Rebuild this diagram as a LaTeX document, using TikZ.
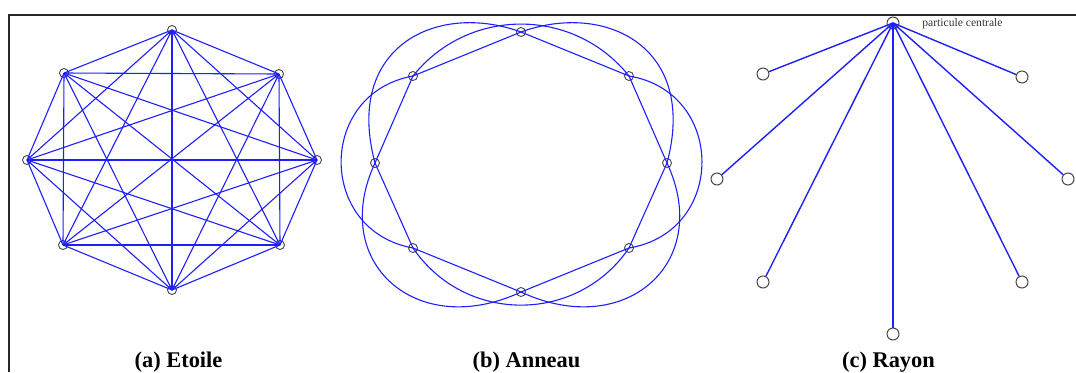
\documentclass[tikz,border=0pt]{standalone}
\usepackage{fontspec}
\setmainfont{Liberation Serif}
\definecolor{edgeblue}{RGB}{30,30,255}
\definecolor{nodegray}{RGB}{70,70,70}
\begin{document}
\begin{tikzpicture}[x=0.5pt,y=0.5pt,
  pt/.style={circle,draw=nodegray,line width=0.45pt,minimum size=4.5pt,inner sep=0pt},
  bigpt/.style={circle,draw=nodegray,line width=0.5pt,minimum size=6pt,inner sep=0pt},
  edge/.style={draw=edgeblue,line width=0.55pt},
  spoke/.style={draw=edgeblue,line width=0.7pt},
  caption/.style={anchor=base,font=\bfseries\fontsize{11.2}{13}\selectfont},
  frame/.style={draw=black!85,line width=1pt}]
\useasboundingbox (0,0) rectangle (1076,372);
% frame
\draw[frame] (9,0) -- (9,357) -- (1076,357);
% ---------- (a) Etoile ----------
\node[pt] (a1) at (172,342) {};
\node[pt] (a2) at (279,298) {};
\node[pt] (a3) at (317,212) {};
\node[pt] (a4) at (280,127) {};
\node[pt] (a5) at (172,82) {};
\node[pt] (a6) at (63,127) {};
\node[pt] (a7) at (27,212) {};
\node[pt] (a8) at (64,299) {};
\foreach \i in {1,...,7}{
  \pgfmathtruncatemacro\k{\i+1}
  \foreach \j in {\k,...,8}{
    \draw[edge] (a\i.center) -- (a\j.center);
  }
}
\node[caption] (capa) at (178.5,5) {(a) Etoile};
% ---------- (b) Anneau ----------
\node[pt] (b1) at (521,340) {};
\node[pt] (b2) at (629,296) {};
\node[pt] (b3) at (667,209) {};
\node[pt] (b4) at (629,124) {};
\node[pt] (b5) at (521,80) {};
\node[pt] (b6) at (413,124) {};
\node[pt] (b7) at (375,209) {};
\node[pt] (b8) at (413,296) {};
\draw[edge] (b1.center) -- (b2.center) -- (b3.center) -- (b4.center) -- (b5.center)
  -- (b6.center) -- (b7.center) -- (b8.center) -- (b1.center);
% arcs between diagonal particles
\draw[edge] (b8.center) to[out=51.4,in=128.6,distance=44.3pt] (b2.center);
\draw[edge] (b6.center) to[out=-55.7,in=-124.3,distance=46.1pt] (b4.center);
\draw[edge] (b8.center) to[out=190.2,in=169.8,distance=48.7pt] (b6.center);
\draw[edge] (b2.center) to[out=-9.4,in=9.4,distance=49.3pt] (b4.center);
% arcs between axis particles
\draw[edge] (b1.center) to[out=160,in=105,out distance=45pt,in distance=60pt] (b7.center);
\draw[edge] (b1.center) to[out=20,in=75,out distance=45pt,in distance=60pt] (b3.center);
\draw[edge] (b7.center) to[out=245,in=205,out distance=55pt,in distance=57.5pt] (b5.center);
\draw[edge] (b3.center) to[out=295,in=335,out distance=55pt,in distance=57.5pt] (b5.center);
\node[caption] (capb) at (526.5,5) {(b) Anneau};
% ---------- (c) Rayon ----------
\node[bigpt] (c0) at (893,349) {};
\node[bigpt] (c1) at (763,298) {};
\node[bigpt] (c2) at (717,193) {};
\node[bigpt] (c3) at (763,90) {};
\node[bigpt] (c4) at (893,38) {};
\node[bigpt] (c5) at (1022,90) {};
\node[bigpt] (c6) at (1068,193) {};
\node[bigpt] (c7) at (1022,295) {};
\foreach \i in {1,...,7}{
  \draw[spoke] (c0.center) -- (c\i);
}
\node[anchor=base west,font=\fontsize{5.8}{6}\selectfont,text=black!80,inner sep=0pt] (lbl) at (922,346) {particule centrale};
\node[caption] (capc) at (888.5,5) {(c) Rayon};
\end{tikzpicture}
\end{document}
